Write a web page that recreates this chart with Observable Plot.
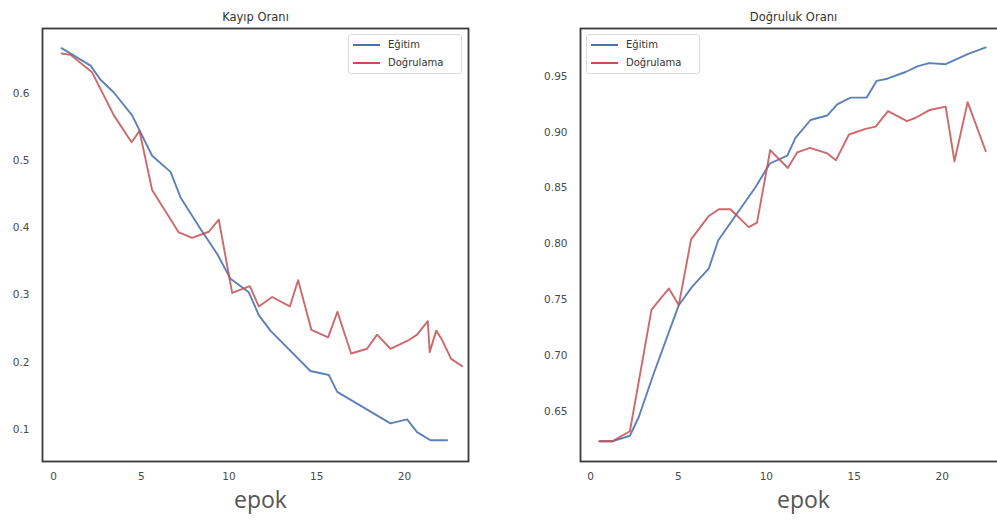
<!DOCTYPE html>
<html>
<head>
<meta charset="utf-8">
<script src="https://cdn.jsdelivr.net/npm/d3@7"></script>
<script src="https://cdn.jsdelivr.net/npm/@observablehq/plot@0.6"></script>
<style>
  html, body { margin: 0; padding: 0; background: #fff; }
  #wrap { position: relative; width: 997px; height: 520px; overflow: hidden; background: #fff; }
  .panel { position: absolute; top: 0; }
  .legend { position: absolute; box-sizing: border-box; border: 1px solid #dcdcdc; border-radius: 3px; background: rgba(255,255,255,0.9);
            font-family: "DejaVu Sans", sans-serif; font-size: 10px; color: #333; }
  .legend .row { position: absolute; left: 0; height: 14px; line-height: 14px; white-space: nowrap; }
  .legend .sw { position: absolute; top: 6px; height: 2px; width: 27px; }
  .legend .lb { position: absolute; top: 0; }
</style>
</head>
<body>
<div id="wrap"></div>
<script>
// ---- data ----
const xTicks = [0, 5, 10, 15, 20];
const lossTicks = [0.1, 0.2, 0.3, 0.4, 0.5, 0.6];
const accTicks = [0.65, 0.70, 0.75, 0.80, 0.85, 0.90, 0.95];
const seriesNames = ["Eğitim", "Doğrulama"];
const titles = ["Kayıp Oranı", "Doğruluk Oranı"];
const xLabel = "epok";

const lossTrainX = [0.46, 2.11, 2.68, 3.44, 4.48, 5.62, 6.67, 7.24, 8.38, 9.33, 10.09, 11.13, 11.70, 12.36, 14.64, 15.69, 16.17, 19.20, 20.15, 20.72, 21.48, 22.43];
const lossTrainY = [0.667, 0.641, 0.620, 0.601, 0.567, 0.507, 0.483, 0.445, 0.398, 0.361, 0.324, 0.304, 0.270, 0.247, 0.187, 0.181, 0.156, 0.109, 0.115, 0.096, 0.084, 0.084];

const lossValX = [0.46, 0.97, 2.20, 3.44, 4.45, 4.90, 5.62, 7.14, 7.90, 8.85, 9.42, 10.18, 11.19, 11.70, 12.46, 13.47, 13.94, 14.70, 15.65, 16.18, 16.96, 17.87, 18.44, 19.20, 20.25, 20.72, 21.33, 21.44, 21.81, 22.15, 22.66, 23.29];
const lossValY = [0.659, 0.657, 0.631, 0.567, 0.527, 0.544, 0.456, 0.393, 0.385, 0.394, 0.412, 0.303, 0.313, 0.283, 0.297, 0.283, 0.322, 0.248, 0.237, 0.275, 0.213, 0.220, 0.241, 0.220, 0.233, 0.241, 0.261, 0.215, 0.247, 0.233, 0.205, 0.194];

const accTrainX = [0.51, 1.23, 2.24, 2.75, 3.60, 5.02, 5.75, 6.73, 7.26, 9.39, 10.20, 11.19, 11.66, 12.51, 13.46, 14.03, 14.79, 15.70, 16.27, 16.88, 17.92, 18.59, 19.25, 20.20, 21.45, 22.48];
const accTrainY = [0.623, 0.623, 0.628, 0.645, 0.684, 0.745, 0.761, 0.778, 0.803, 0.851, 0.872, 0.879, 0.895, 0.911, 0.915, 0.925, 0.931, 0.931, 0.946, 0.948, 0.954, 0.959, 0.962, 0.961, 0.970, 0.976];

const accValX = [0.51, 1.23, 2.24, 3.47, 4.46, 5.02, 5.72, 6.73, 7.30, 7.96, 9.00, 9.47, 10.22, 11.22, 11.76, 12.48, 13.47, 13.96, 14.70, 15.65, 16.22, 16.92, 18.00, 18.49, 19.30, 20.20, 20.70, 21.45, 22.48];
const accValY = [0.623, 0.623, 0.632, 0.741, 0.760, 0.745, 0.804, 0.825, 0.831, 0.831, 0.815, 0.819, 0.884, 0.868, 0.882, 0.886, 0.881, 0.875, 0.898, 0.903, 0.905, 0.919, 0.910, 0.913, 0.920, 0.923, 0.874, 0.927, 0.883];

const colors = ["#4c72b0", "#c44e52"];

function toRows(xs, ys, name) { return xs.map((x, i) => ({x, y: ys[i], s: name})); }

function panel({title, train, val, yDomain, xDomain, yTicks, yFormat, epokDx}) {
  return Plot.plot({
    width: 480, height: 520,
    marginLeft: 42, marginRight: 12, marginTop: 28, marginBottom: 59,
    style: {fontFamily: "DejaVu Sans, sans-serif", fontSize: "10.5px", color: "#4a4a4a", background: "transparent", overflow: "visible"},
    x: {domain: xDomain},
    y: {domain: yDomain},
    color: {domain: seriesNames, range: colors},
    marks: [
      Plot.axisX(xTicks, {tickSize: 0, tickPadding: 11, label: null, fill: "#4a4a4a"}),
      Plot.axisY(yTicks, {tickSize: 0, tickPadding: 13, label: null, tickFormat: yFormat, fill: "#4a4a4a"}),
      Plot.line(train, {x: "x", y: "y", stroke: "s", strokeWidth: 1.9, strokeOpacity: 0.9}),
      Plot.line(val, {x: "x", y: "y", stroke: "s", strokeWidth: 1.9, strokeOpacity: 0.85}),
      Plot.frame({stroke: "#3a3a3a", strokeWidth: 1.8}),
      Plot.text([title], {frameAnchor: "top", lineAnchor: "middle", dy: -11, fontSize: 11.5, fill: "#333"}),
      Plot.text([xLabel], {frameAnchor: "bottom", lineAnchor: "middle", dy: 39, dx: epokDx, fontSize: 23, fontFamily: "Open Sans, sans-serif", fill: "#555"})
    ]
  });
}

const wrap = document.getElementById("wrap");

const left = panel({
  title: titles[0],
  train: toRows(lossTrainX, lossTrainY, seriesNames[0]),
  val: toRows(lossValX, lossValY, seriesNames[1]),
  xDomain: [-0.627, 23.65], yDomain: [0.0524, 0.6962],
  yTicks: lossTicks, yFormat: d3.format(".1f"), epokDx: 5
});
left.classList.add("panel"); left.style.left = "0px";
wrap.appendChild(left);

const right = panel({
  title: titles[1],
  train: toRows(accTrainX, accTrainY, seriesNames[0]),
  val: toRows(accValX, accValY, seriesNames[1]),
  xDomain: [-0.57, 23.66], yDomain: [0.6049, 0.993],
  yTicks: accTicks, yFormat: d3.format(".2f"), epokDx: 10
});
right.classList.add("panel"); right.style.left = "538px";
wrap.appendChild(right);

function legend(x, y, w, h) {
  const box = document.createElement("div");
  box.className = "legend";
  Object.assign(box.style, {left: x + "px", top: y + "px", width: w + "px", height: h + "px"});
  seriesNames.forEach((name, i) => {
    const row = document.createElement("div");
    row.className = "row";
    row.style.top = (3 + i * 18) + "px";
    const sw = document.createElement("span");
    sw.className = "sw"; sw.style.left = "4px"; sw.style.background = colors[i];
    const lb = document.createElement("span");
    lb.className = "lb"; lb.style.left = "39px"; lb.textContent = name;
    row.appendChild(sw); row.appendChild(lb);
    box.appendChild(row);
  });
  wrap.appendChild(box);
}
legend(348, 34, 114, 40);
legend(586, 34, 114, 40);
</script>
</body>
</html>
